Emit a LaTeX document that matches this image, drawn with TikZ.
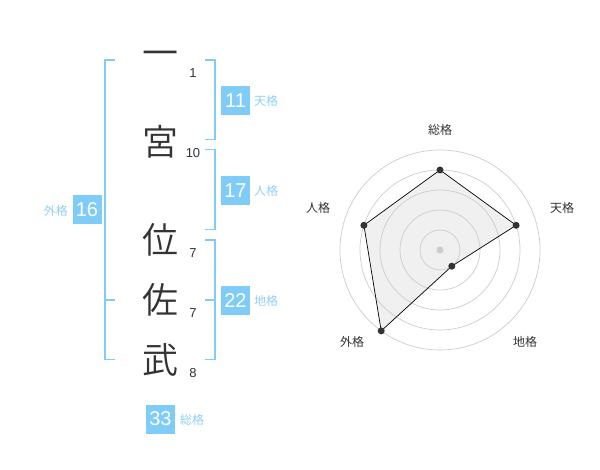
\documentclass[tikz,border=0pt]{standalone}
\usepackage{fontspec}
\setmainfont{Liberation Sans}
\newfontfamily\jp{Noto Sans CJK JP}
\newfontfamily\jpl{Noto Sans CJK JP DemiLight}
\definecolor{br}{HTML}{80CCF8}
\definecolor{lbl}{HTML}{8FD0F5}
\definecolor{ink}{HTML}{333333}
\definecolor{ring}{HTML}{CCCCCC}
\definecolor{fillg}{HTML}{F0F0F0}
\begin{document}
\begin{tikzpicture}[x=1pt,y=-1pt,
  bigch/.style={inner sep=0pt,text=ink,font=\jpl\fontsize{36}{36}\selectfont},
  strokes/.style={inner sep=0pt,text=ink,font=\fontsize{13}{13}\selectfont},
  numbox/.style={fill=br,text=white,minimum width=29pt,minimum height=29pt,inner sep=0pt,font=\fontsize{20}{20}\selectfont},
  gname/.style={text=lbl,inner sep=0pt,anchor=west,font=\jp\fontsize{12}{12}\selectfont},
  brk/.style={draw=br,line width=1.8pt},
  ringst/.style={draw=ring,line width=0.7pt},
  rlabel/.style={text=ink,inner sep=0pt,font=\jp\fontsize{12}{12}\selectfont},
  dot/.style={circle,fill=ink,inner sep=0pt,minimum size=7pt}]
\useasboundingbox (0,0) rectangle (600,470);
% characters
\node[bigch] (c1) at (160,58.7) {一};
\node[bigch] (c2) at (160,142) {宮};
\node[bigch] (c3) at (160,240) {位};
\node[bigch] (c4) at (160,300) {佐};
\node[bigch] (c5) at (160,360) {武};
% stroke counts
\node[strokes] (s1) at (193,73) {1};
\node[strokes] (s2) at (193,153) {10};
\node[strokes] (s3) at (193,253) {7};
\node[strokes] (s4) at (193,313) {7};
\node[strokes] (s5) at (193,373) {8};
% brackets
\draw[brk] (115,60) -- (105,60) -- (105,359.5) -- (115,359.5);
\draw[brk] (105,300) -- (115,300);
\draw[brk] (205,60) -- (215,60) -- (215,139.5) -- (205,139.5);
\draw[brk] (205,149.5) -- (215,149.5) -- (215,229.5) -- (205,229.5);
\draw[brk] (205,240) -- (215,240) -- (215,359.5) -- (205,359.5);
\draw[brk] (205,300) -- (215,300);
% boxes
\node[numbox] (b11) at (235.5,100.5) {11};
\node[gname] (g11) at (254,101) {天格};
\node[numbox] (b17) at (235.5,190.5) {17};
\node[gname] (g17) at (254,191) {人格};
\node[numbox] (b22) at (235.5,300.5) {22};
\node[gname] (g22) at (254,301) {地格};
\node[numbox] (b16) at (87,210) {16};
\node[gname,anchor=east] (g16) at (68,211) {外格};
\node[numbox] (b33) at (160.5,419) {33};
\node[gname] (g33) at (180,420) {総格};
% radar
\coordinate (o) at (440,250);
\coordinate (p1) at (440,170);
\coordinate (p2) at (516.1,225.3);
\coordinate (p3) at (451.8,266.2);
\coordinate (p4) at (381.2,330.9);
\coordinate (p5) at (363.9,225.3);
\fill[fillg] (p1) -- (p2) -- (p3) -- (p4) -- (p5) -- cycle;
\foreach \r in {20,40,60,80,100} \draw[ringst] (o) circle[radius=\r];
\draw[black,line width=0.7pt] (p1) -- (p2) -- (p3) -- (p4) -- (p5) -- cycle;
\node[circle,fill=ring,inner sep=0pt,minimum size=7pt] (oc) at (o) {};
\foreach \p in {p1,p2,p3,p4,p5} \node[dot] (d\p) at (\p) {};
\node[rlabel] (r1) at (440,130) {総格};
\node[rlabel] (r2) at (562,208) {天格};
\node[rlabel] (r3) at (525,342) {地格};
\node[rlabel] (r4) at (352,342) {外格};
\node[rlabel] (r5) at (318,208) {人格};
\end{tikzpicture}
\end{document}
